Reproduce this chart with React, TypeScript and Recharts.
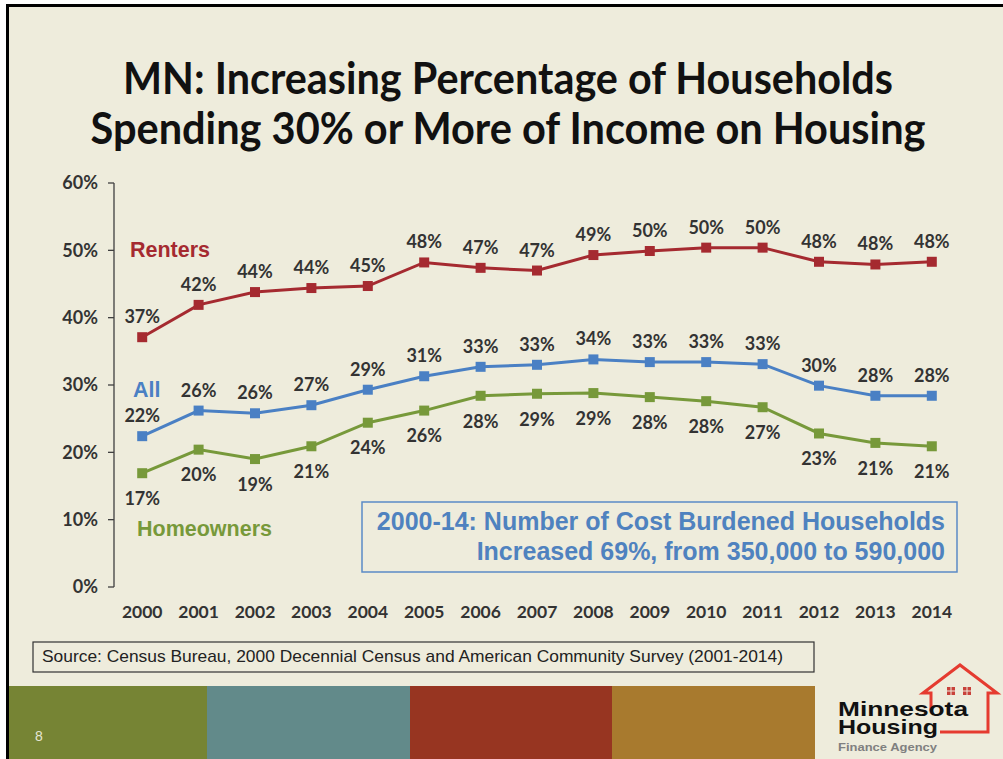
import React from 'react';
import { LineChart, Line, XAxis, YAxis, LabelList } from 'recharts';

const years = ['2000', '2001', '2002', '2003', '2004', '2005', '2006', '2007', '2008', '2009', '2010', '2011', '2012', '2013', '2014'];
const renters = [37.1, 41.9, 43.8, 44.4, 44.7, 48.2, 47.4, 47.0, 49.3, 49.9, 50.4, 50.4, 48.3, 47.9, 48.3];
const allHouseholds = [22.4, 26.2, 25.8, 27.0, 29.3, 31.3, 32.7, 33.0, 33.8, 33.4, 33.4, 33.1, 29.9, 28.4, 28.4];
const homeowners = [16.9, 20.4, 19.0, 20.9, 24.4, 26.2, 28.4, 28.7, 28.8, 28.2, 27.6, 26.7, 22.8, 21.4, 20.9];
const yTicks = [0, 10, 20, 30, 40, 50, 60];
const edgeTicks = Array.from({ length: years.length + 1 }, (_, i) => i);

const titleLines = ['MN: Increasing Percentage of Households', 'Spending 30% or More of Income on Housing'];
const boxLines = ['2000-14: Number of Cost Burdened Households', 'Increased 69%, from 350,000 to 590,000'];
const sourceText = 'Source:  Census Bureau, 2000 Decennial Census and American Community Survey (2001-2014)';

const data = years.map((year, i) => ({
  year,
  renters: renters[i],
  all: allHouseholds[i],
  homeowners: homeowners[i],
}));

const RED = '#a52a30';
const BLUE = '#4a80c4';
const GREEN = '#77993a';
const BG = '#eeecdc';
const LABEL_FONT = 'Lato, "Open Sans", sans-serif';
const ARIAL = '"Liberation Sans", Arial, sans-serif';

const squareDot = (color: string) => (props: any) => {
  const { cx, cy, index } = props;
  if (cx == null || cy == null) return <g key={`d-${index}`} />;
  return <rect key={`d-${index}`} x={cx - 5} y={cy - 5} width={10} height={10} fill={color} />;
};

const pct = (v: any) => `${Math.round(Number(v))}%`;
const labelStyle = { fill: '#333333', fontWeight: 700, fontSize: 18, fontFamily: LABEL_FONT };

function Background() {
  return (
    <svg width={1003} height={759} style={{ position: 'absolute', left: 0, top: 0 }}>
      <rect x={0} y={0} width={1003} height={759} fill="#ffffff" />
      <rect x={6} y={4} width={997} height={755} fill="#000000" />
      <rect x={9} y={7} width={994} height={752} fill={BG} />
      {titleLines.map((t, i) => (
        <text
          key={t}
          x={508}
          y={[94, 144][i]}
          textAnchor="middle"
          fontFamily={LABEL_FONT}
          fontWeight={700}
          fontSize={43}
          fill="#111111"
          textLength={[770, 835][i]}
          lengthAdjust="spacingAndGlyphs"
        >
          {t}
        </text>
      ))}
      <text x={130} y={257} fontFamily={ARIAL} fontWeight={700} fontSize={21.5} fill={RED}>Renters</text>
      <text x={133} y={397} fontFamily={ARIAL} fontWeight={700} fontSize={21.5} fill={BLUE}>All</text>
      <text x={137} y={536} fontFamily={ARIAL} fontWeight={700} fontSize={21.5} fill={GREEN}>Homeowners</text>
      <rect x={362} y={502} width={595} height={70} fill="none" stroke="#5b8ac6" strokeWidth={1.5} />
      {boxLines.map((t, i) => (
        <text key={t} x={945} y={[530, 560][i]} textAnchor="end" fontFamily={ARIAL} fontWeight={700} fontSize={25} fill="#4f82bf">
          {t}
        </text>
      ))}
      <rect x={33} y={642} width={781} height={30} fill="none" stroke="#333333" strokeWidth={1.2} />
      <text x={42} y={662} fontFamily={ARIAL} fontSize={17} fill="#222222" textLength={741} lengthAdjust="spacingAndGlyphs">{sourceText}</text>
      <rect x={9} y={686} width={198} height={73} fill="#768434" />
      <rect x={207} y={686} width={203} height={73} fill="#628a8a" />
      <rect x={410} y={686} width={202} height={73} fill="#973521" />
      <rect x={612} y={686} width={203} height={73} fill="#a87a2e" />
      <text x={35} y={741} fontFamily={ARIAL} fontSize={14} fill="#e6e6d6">8</text>
      {/* logo */}
      <path d="M 931 711 L 931 693 L 923 693 L 960 665 L 997 693 L 988 693 L 988 732 L 940 732" fill="none" stroke="#e53b30" strokeWidth={3} strokeLinejoin="miter" />
      {[947, 963].map((wx) => (
        <g key={wx} fill="#c8413a">
          <rect x={wx} y={687} width={3.5} height={3.5} />
          <rect x={wx + 4.5} y={687} width={3.5} height={3.5} />
          <rect x={wx} y={691.5} width={3.5} height={3.5} />
          <rect x={wx + 4.5} y={691.5} width={3.5} height={3.5} />
        </g>
      ))}
      <text x={838} y={716} fontFamily={ARIAL} fontWeight={700} fontSize={21} fill="#111111" textLength={130} lengthAdjust="spacingAndGlyphs">Minnesota</text>
      <text x={838} y={734} fontFamily={ARIAL} fontWeight={700} fontSize={21} fill="#111111" textLength={100} lengthAdjust="spacingAndGlyphs">Housing</text>
      <text x={838} y={751} fontFamily={ARIAL} fontWeight={700} fontSize={11} fill="#808080" textLength={99} lengthAdjust="spacingAndGlyphs">Finance Agency</text>
    </svg>
  );
}

export default function App() {
  return (
    <div style={{ position: 'absolute', left: 0, top: 0, width: 1003, height: 759, overflow: 'hidden' }}>
      <Background />
      <div style={{ position: 'absolute', left: 0, top: 0 }}>
        <LineChart width={1003} height={759} data={data} margin={{ top: 183, right: 43, bottom: 142, left: 64 }}>
          <XAxis
            xAxisId="edges"
            type="number"
            domain={[0, years.length]}
            ticks={edgeTicks}
            tick={false}
            height={0}
            tickSize={6}
            axisLine={{ stroke: '#404040', strokeWidth: 1.3 }}
            tickLine={{ stroke: '#404040', strokeWidth: 1.3 }}
            allowDataOverflow
          />
          <XAxis
            xAxisId="cat"
            dataKey="year"
            padding={{ left: 28.2, right: 28.2 }}
            height={30}
            axisLine={false}
            tickLine={false}
            tickSize={0}
            tickMargin={19}
            interval={0}
            tick={{ fill: '#333333', fontWeight: 700, fontSize: 17.5, fontFamily: LABEL_FONT }}
          />
          <YAxis
            domain={[0, 60]}
            ticks={yTicks}
            tickFormatter={(v: number) => `${v}%`}
            width={50}
            tickSize={6}
            tickMargin={10}
            axisLine={{ stroke: '#404040', strokeWidth: 1.3 }}
            tickLine={{ stroke: '#404040', strokeWidth: 1.3 }}
            tick={{ fill: '#333333', fontWeight: 700, fontSize: 18, fontFamily: LABEL_FONT }}
          />
          <Line xAxisId="cat" type="linear" dataKey="renters" stroke={RED} strokeWidth={3} dot={squareDot(RED)} activeDot={false} isAnimationActive={false}>
            <LabelList dataKey="renters" position="top" offset={14} formatter={pct} style={labelStyle} />
          </Line>
          <Line xAxisId="cat" type="linear" dataKey="all" stroke={BLUE} strokeWidth={3} dot={squareDot(BLUE)} activeDot={false} isAnimationActive={false}>
            <LabelList dataKey="all" position="top" offset={14} formatter={pct} style={labelStyle} />
          </Line>
          <Line xAxisId="cat" type="linear" dataKey="homeowners" stroke={GREEN} strokeWidth={3} dot={squareDot(GREEN)} activeDot={false} isAnimationActive={false}>
            <LabelList dataKey="homeowners" position="bottom" offset={19} formatter={pct} style={labelStyle} />
          </Line>
        </LineChart>
      </div>
    </div>
  );
}
